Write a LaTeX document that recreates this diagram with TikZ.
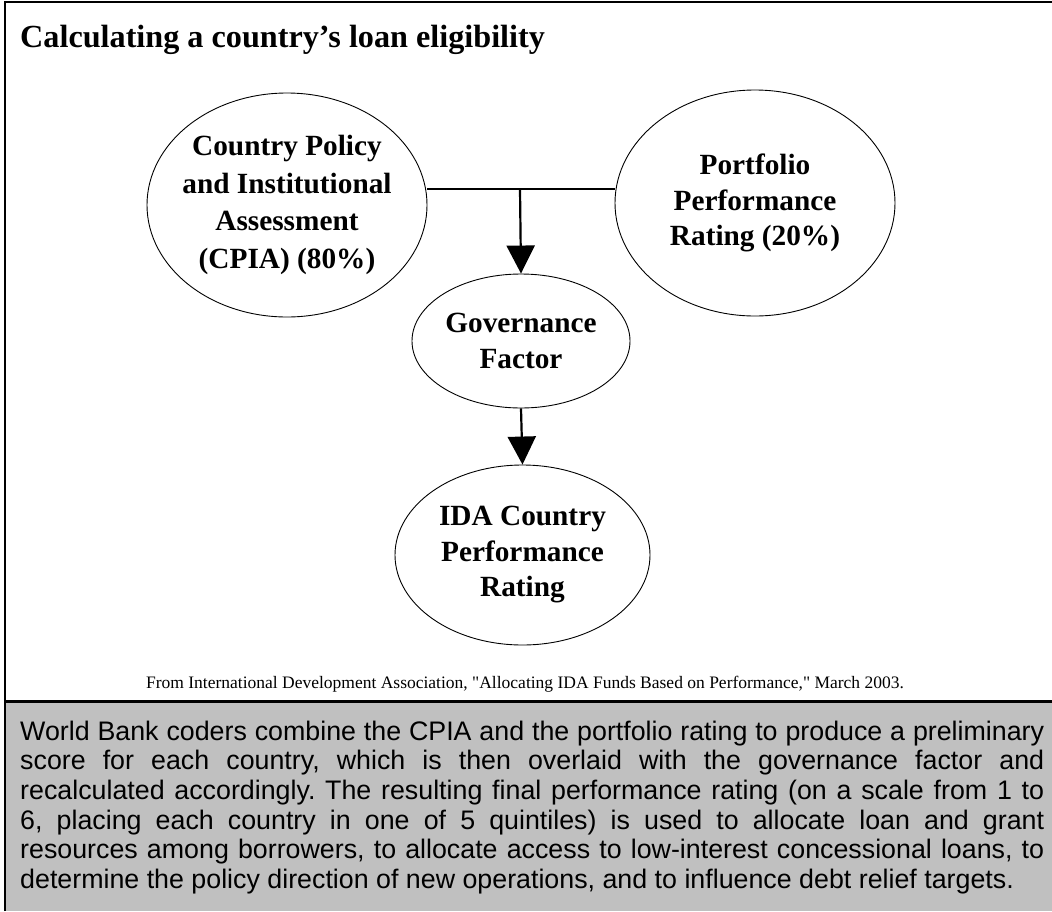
\documentclass[tikz,border=0pt]{standalone}
\usepackage{fontspec}
\setmainfont{Liberation Serif}
\newfontfamily\notesans{Liberation Sans}
\usepackage{xcolor}
\usetikzlibrary{shapes.geometric}
\usetikzlibrary{arrows.meta}

\definecolor{notegray}{RGB}{192,192,192}

\begin{document}
\frenchspacing
\begin{tikzpicture}[x=1pt,y=-1pt,
  ovaln/.style={draw, ellipse, line width=0.9pt, inner sep=-60pt, align=center,
    font=\fontsize{29.3}{35.5}\selectfont\bfseries},
  joinn/.style={line width=2.2pt},
  flown/.style={line width=2.2pt, -{Triangle[width=28pt,length=28pt]}}]
  \useasboundingbox (0,0) rectangle (1052,911);
  \fill[notegray] (6,701) rectangle (1052,911);
  \draw[line width=2.5pt] (5,911) -- (5,2) -- (1052,2);
  \draw[line width=3pt] (5,701) -- (1052,701);
  \node[anchor=base west, inner sep=0, font=\fontsize{32.2}{36}\selectfont\bfseries] (title) at (20,47) {Calculating a country’s loan eligibility};
  \node[ovaln, minimum width=280, minimum height=224, font=\fontsize{29.3}{37.5}\selectfont\bfseries] (cpia) at (287,205) {Country Policy\\and Institutional\\Assessment\\(CPIA) (80\%)};
  \node[ovaln, minimum width=280, minimum height=226] (port) at (755,203) {Portfolio\\Performance\\Rating (20\%)};
  \node[ovaln, minimum width=218, minimum height=134] (gov) at (521,341) {Governance\\Factor};
  \node[ovaln, minimum width=255, minimum height=180] (ida) at (522.5,555) {IDA Country\\Performance\\Rating};
  \coordinate (join) at (520,189);
  \draw[joinn] (cpia.east |- join) -- (port.west |- join);
  \draw[flown] (join) -- (gov.north);
  \draw[flown] (gov.south) -- (ida.north);
  \node[anchor=base, inner sep=0, font=\fontsize{17.5}{20}\selectfont] (src) at (525,688) {From International Development Association, \textquotedbl Allocating IDA Funds Based on Performance,\textquotedbl\ March 2003.};
  \node[anchor=base west, inner sep=0, text width=1024, align=justify,
    font={\notesans\fontsize{26.8}{29.7}\selectfont\frenchspacing\tolerance=9999\hbadness=10000\hyphenpenalty=10000}] (note) at (20,740)
    {World Bank coders combine the CPIA and the portfolio rating to produce a preliminary\linebreak
    score for each country, which is then overlaid with the governance factor and\linebreak
    recalculated accordingly. The resulting final performance rating (on a scale from 1 to\linebreak
    6, placing each country in one of 5 quintiles) is used to allocate loan and grant\linebreak
    resources among borrowers, to allocate access to low-interest concessional loans, to\linebreak
    determine the policy direction of new operations, and to influence debt relief targets.};
\end{tikzpicture}
\end{document}
